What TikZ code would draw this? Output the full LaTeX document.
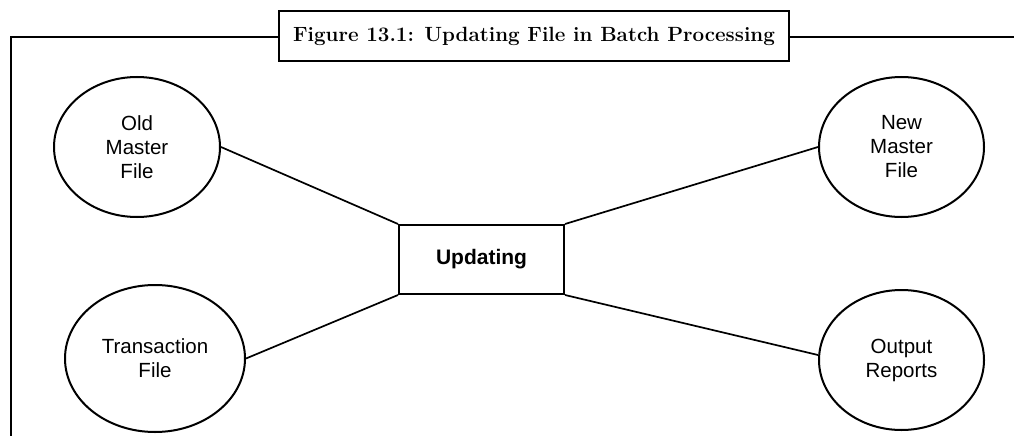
\documentclass[tikz,border=0pt]{standalone}
\usepackage{fontspec}
\setsansfont{Liberation Sans}
\usetikzlibrary{shapes.geometric}
\begin{document}
\begin{tikzpicture}[x=1pt,y=-1pt,
  file/.style={draw,line width=2pt,ellipse,inner sep=0pt,align=center,
    font=\sffamily\fontsize{20.5}{24}\selectfont},
  proc/.style={draw,line width=2pt,rectangle,inner sep=0pt,
    font=\sffamily\bfseries\fontsize{21}{25}\selectfont},
  link/.style={line width=1.7pt},
  frame/.style={line width=2.2pt}]
\useasboundingbox (0,0) rectangle (1014,436);
\draw[frame] (1020,37) -- (11,37) -- (11,440);
\node[draw,frame,fill=white,minimum width=510pt,minimum height=50pt,inner sep=0pt,
  font=\bfseries\fontsize{20.6}{24}\selectfont] (title) at (534,36)
  {Figure 13.1: Updating File in Batch Processing};
\node[file,minimum width=166pt,minimum height=140pt] (old) at (137,147) {Old\\Master\\File};
\node[file,minimum width=180pt,minimum height=147pt] (trans) at (155,358.5) {Transaction\\File};
\node[file,minimum width=165pt,minimum height=140pt] (new) at (901.5,147) {New\\Master\\File};
\node[file,minimum width=165pt,minimum height=140pt] (out) at (901.5,360) {Output\\Reports};
\node[proc,minimum width=165pt,minimum height=69pt] (upd) at (481.5,259.5) {Updating};
\draw[link] (old.east) -- (upd.north west);
\draw[link] (trans.east) -- (upd.south west);
\draw[link] (upd.north east) -- (new.west);
\draw[link] (upd.south east) -- ([yshift=5pt]out.west);
\end{tikzpicture}
\end{document}
